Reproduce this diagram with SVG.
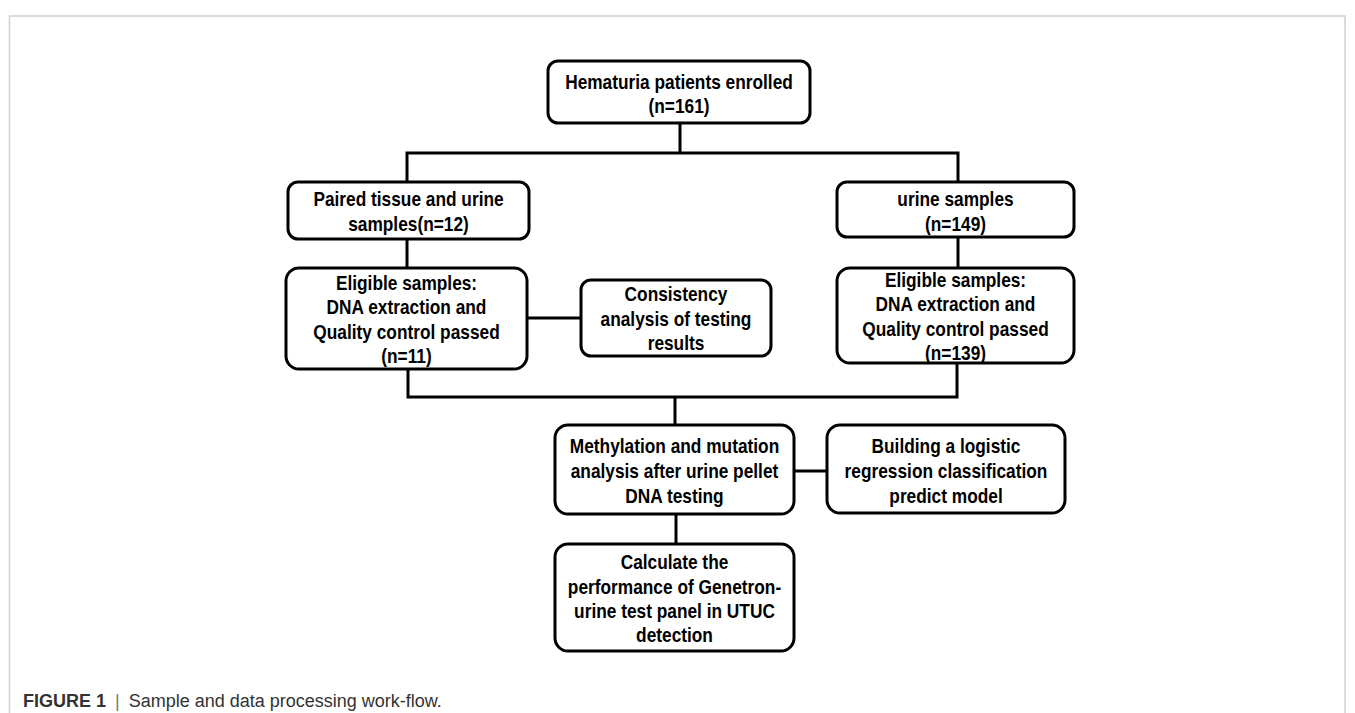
<svg xmlns="http://www.w3.org/2000/svg" width="1355" height="713" viewBox="0 0 1355 713">
<style>
.box{fill:#fff;stroke:#000;stroke-width:3}
.con{fill:none;stroke:#000;stroke-width:3;stroke-linecap:square}
.t{font-family:"Liberation Sans",Arial,sans-serif;font-weight:bold;font-size:20px;text-anchor:middle;fill:#000}
.cap{font-family:"Liberation Sans",Arial,sans-serif;font-size:18px;fill:#333}
</style>
<rect width="1355" height="713" fill="#fff"/>
<path d="M9.5 713 V16 H1345 V713" fill="none" stroke="#cfcfcf" stroke-width="1.5"/>
<g id="connectors">
<path class="con" d="M680 123 V153 M407 182 V153 H958 V182"/>
<path class="con" d="M407 239 V268 M958 237 V268"/>
<path class="con" d="M527 318 H581"/>
<path class="con" d="M408 369 V397 H957 V363 M675 397 V425"/>
<path class="con" d="M794 471 H827"/>
<path class="con" d="M676 514 V544"/>
</g>
<g id="n1">
<rect class="box" x="548" y="61" width="262" height="62" rx="10"/>
<g transform="translate(679 0) scale(0.865 1)"><text class="t" x="0" y="89">Hematuria patients enrolled</text><text class="t" x="0" y="113">(n=161)</text></g>
</g>
<g id="n2">
<rect class="box" x="288" y="182" width="241" height="57" rx="10"/>
<g transform="translate(408.5 0) scale(0.865 1)"><text class="t" x="0" y="206">Paired tissue and urine</text><text class="t" x="0" y="231">samples(n=12)</text></g>
</g>
<g id="n3">
<rect class="box" x="837" y="182" width="237" height="55" rx="10"/>
<g transform="translate(955.5 0) scale(0.865 1)"><text class="t" x="0" y="206">urine samples</text><text class="t" x="0" y="231">(n=149)</text></g>
</g>
<g id="n4">
<rect class="box" x="286" y="268" width="241" height="101" rx="13"/>
<g transform="translate(406.5 0) scale(0.865 1)"><text class="t" x="0" y="290">Eligible samples:</text><text class="t" x="0" y="314.5">DNA extraction and</text><text class="t" x="0" y="339">Quality control passed</text><text class="t" x="0" y="363.5">(n=11)</text></g>
</g>
<g id="n5">
<rect class="box" x="581" y="280" width="190" height="76" rx="10"/>
<g transform="translate(676 0) scale(0.865 1)"><text class="t" x="0" y="301">Consistency</text><text class="t" x="0" y="326">analysis of testing</text><text class="t" x="0" y="350">results</text></g>
</g>
<g id="n6">
<rect class="box" x="837" y="268" width="237" height="95" rx="13"/>
<g transform="translate(955.5 0) scale(0.865 1)"><text class="t" x="0" y="287">Eligible samples:</text><text class="t" x="0" y="311">DNA extraction and</text><text class="t" x="0" y="336">Quality control passed</text><text class="t" x="0" y="360">(n=139)</text></g>
</g>
<g id="n7">
<rect class="box" x="555" y="425" width="239" height="89" rx="13"/>
<g transform="translate(674.5 0) scale(0.865 1)"><text class="t" x="0" y="453">Methylation and mutation</text><text class="t" x="0" y="478">analysis after urine pellet</text><text class="t" x="0" y="503">DNA testing</text></g>
</g>
<g id="n8">
<rect class="box" x="827" y="425" width="238" height="88" rx="13"/>
<g transform="translate(946 0) scale(0.865 1)"><text class="t" x="0" y="453">Building a logistic</text><text class="t" x="0" y="478">regression classification</text><text class="t" x="0" y="503">predict model</text></g>
</g>
<g id="n9">
<rect class="box" x="555" y="544" width="239" height="107" rx="13"/>
<g transform="translate(674.5 0) scale(0.865 1)"><text class="t" x="0" y="569">Calculate the</text><text class="t" x="0" y="594">performance of Genetron-</text><text class="t" x="0" y="618">urine test panel in UTUC</text><text class="t" x="0" y="642">detection</text></g>
</g>
<g id="caption">
<text class="cap" x="23" y="707"><tspan font-weight="bold">FIGURE 1</tspan><tspan dx="9" fill="#777">|</tspan><tspan dx="9">Sample and data processing work-flow.</tspan></text>
</g>
</svg>
